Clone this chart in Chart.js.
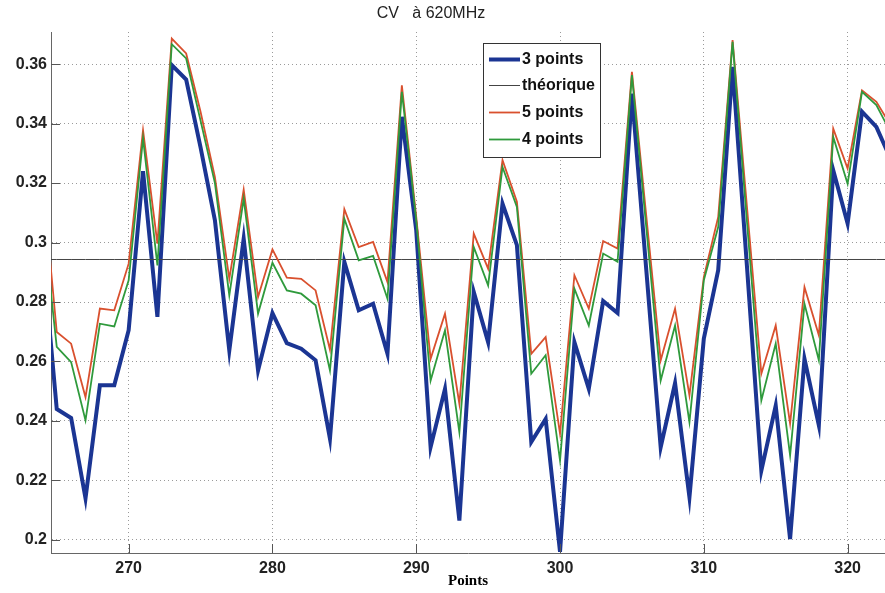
<!DOCTYPE html>
<html>
<head>
<meta charset="utf-8">
<script src="https://cdn.jsdelivr.net/npm/chart.js@4.4.1/dist/chart.umd.min.js"></script>
<style>
html,body{margin:0;padding:0;background:#fff;}
#wrap{width:885px;height:593px;position:relative;}
</style>
</head>
<body>
<div id="wrap"><canvas id="c" width="885" height="593"></canvas></div>
<script>
const titleText = "CV   \u00e0 620MHz";
const xLabel = "Points";
const xTicks = [270, 280, 290, 300, 310, 320];
const yTicks = [0.2, 0.22, 0.24, 0.26, 0.28, 0.3, 0.32, 0.34, 0.36];
const points = [264,265,266,267,268,269,270,271,272,273,274,275,276,277,278,279,280,281,282,283,284,285,286,287,288,289,290,291,292,293,294,295,296,297,298,299,300,301,302,303,304,305,306,307,308,309,310,311,312,313,314,315,316,317,318,319,320,321,322,323];
const labels = ["3 points", "th\u00e9orique", "5 points", "4 points"];
const pts3 = [0.298,0.244,0.241,0.214,0.252,0.252,0.2705,0.324,0.275,0.3597,0.3548,0.332,0.3075,0.2637,0.3013,0.257,0.2763,0.2662,0.2643,0.2604,0.234,0.2935,0.2772,0.2794,0.2626,0.3423,0.3041,0.2312,0.2508,0.2065,0.2834,0.2665,0.3131,0.2991,0.2329,0.2407,0.196,0.2665,0.2508,0.2803,0.2763,0.3501,0.2907,0.2312,0.2527,0.2144,0.2677,0.2907,0.3591,0.292,0.2233,0.2452,0.2003,0.2609,0.2385,0.3243,0.3064,0.344,0.3389,0.328];
const theorique = 0.2943;
const pts5 = [0.322,0.2699,0.266,0.248,0.2778,0.2772,0.2929,0.3378,0.2996,0.3686,0.3636,0.344,0.322,0.2878,0.3178,0.2817,0.2977,0.2882,0.2878,0.2839,0.264,0.3112,0.2985,0.3002,0.2867,0.3529,0.3086,0.2609,0.2761,0.2458,0.303,0.2912,0.3277,0.3137,0.2626,0.2682,0.2357,0.289,0.2778,0.3005,0.298,0.3574,0.3089,0.2604,0.2778,0.2486,0.2884,0.3086,0.3681,0.312,0.2559,0.2721,0.2391,0.285,0.2688,0.3383,0.3249,0.3512,0.3473,0.3394];
const pts4 = [0.3097,0.2649,0.2598,0.2402,0.2727,0.2718,0.2873,0.335,0.2923,0.3667,0.3619,0.341,0.320,0.2822,0.3148,0.2761,0.2932,0.2839,0.2828,0.2789,0.257,0.308,0.294,0.2955,0.2811,0.3507,0.3075,0.2536,0.2705,0.2362,0.2985,0.2856,0.3254,0.312,0.2559,0.2621,0.2267,0.2845,0.2721,0.2963,0.2935,0.3563,0.305,0.2536,0.2721,0.2396,0.2873,0.3052,0.3675,0.307,0.2469,0.266,0.2284,0.2794,0.2604,0.3355,0.3198,0.3507,0.3462,0.337];

const colors = ["#1b3593", "#444444", "#d9502e", "#2f9a3c"];
const widths = [4, 1, 1.8, 1.8];

const mk = arr => points.map((p, i) => ({x: p, y: arr[i]}));
const theoData = points.map(p => ({x: p, y: theorique}));

const legendPlugin = {
  id: 'boxLegend',
  afterDraw(chart) {
    const ctx = chart.ctx;
    const x0 = 483, y0 = 43, w = 117, h = 114;
    ctx.save();
    ctx.fillStyle = '#fff';
    ctx.fillRect(x0, y0, w, h);
    ctx.strokeStyle = '#333';
    ctx.lineWidth = 1;
    ctx.strokeRect(x0 + 0.5, y0 + 0.5, w, h);
    const rows = [59, 85, 112, 139];
    ctx.font = 'bold 16px "Liberation Sans", Arial, sans-serif';
    ctx.textBaseline = 'middle';
    ctx.textAlign = 'left';
    labels.forEach((lb, i) => {
      ctx.strokeStyle = colors[i];
      ctx.lineWidth = widths[i];
      ctx.beginPath();
      ctx.moveTo(489, rows[i] + 0.5);
      ctx.lineTo(520, rows[i] + 0.5);
      ctx.stroke();
      ctx.fillStyle = '#111';
      ctx.fillText(lb, 522, rows[i] + 1);
    });
    ctx.restore();
  }
};

const titleAndTicksPlugin = {
  id: 'titleTicks',
  afterDraw(chart) {
    const ctx = chart.ctx;
    const a = chart.chartArea;
    const xs = chart.scales.x, ys = chart.scales.y;
    ctx.save();
    ctx.strokeStyle = '#555';
    ctx.lineWidth = 1;
    ctx.beginPath();
    xTicks.forEach(v => {
      const px = Math.round(xs.getPixelForValue(v)) + 0.5;
      ctx.moveTo(px, a.bottom);
      ctx.lineTo(px, a.bottom - 9);
    });
    yTicks.forEach(v => {
      const py = Math.round(ys.getPixelForValue(v)) + 0.5;
      ctx.moveTo(a.left, py);
      ctx.lineTo(a.left + 9, py);
    });
    ctx.stroke();
    ctx.fillStyle = '#222';
    ctx.font = '16px "Liberation Sans", Arial, sans-serif';
    ctx.textAlign = 'center';
    ctx.textBaseline = 'middle';
    ctx.fillText(titleText, 431, 14);
    ctx.restore();
  }
};

new Chart(document.getElementById('c'), {
  type: 'line',
  data: {
    datasets: [
      {label: labels[0], data: mk(pts3), borderColor: colors[0], borderWidth: widths[0], order: 4},
      {label: labels[1], data: theoData, borderColor: colors[1], borderWidth: widths[1], order: 3},
      {label: labels[2], data: mk(pts5), borderColor: colors[2], borderWidth: widths[2], order: 2},
      {label: labels[3], data: mk(pts4), borderColor: colors[3], borderWidth: widths[3], order: 1}
    ]
  },
  options: {
    responsive: false,
    animation: false,
    devicePixelRatio: 1,
    layout: {padding: {top: 32, right: 0, left: 0, bottom: 0}},
    elements: {
      point: {radius: 0, hoverRadius: 0},
      line: {tension: 0, fill: false, borderJoinStyle: 'miter', borderCapStyle: 'butt'}
    },
    plugins: {
      legend: {display: false},
      tooltip: {enabled: false},
      title: {display: false}
    },
    scales: {
      x: {
        type: 'linear',
        min: 264.6,
        max: 322.6,
        afterBuildTicks: s => { s.ticks = xTicks.map(v => ({value: v})); },
        afterFit: s => { s.height = 40; },
        grid: {color: '#9a9a9a', lineWidth: 1, drawTicks: false},
        border: {display: true, color: '#666', width: 1, dash: [1, 3]},
        ticks: {
          color: '#222',
          padding: 6,
          maxRotation: 0,
          autoSkip: false,
          font: {family: '"Liberation Sans", Arial, sans-serif', size: 16, weight: 'bold'}
        },
        title: {
          display: true,
          text: xLabel,
          color: '#000',
          padding: {top: 0, bottom: 3},
          font: {family: '"Liberation Serif", "Times New Roman", serif', size: 15, weight: 'bold'}
        }
      },
      y: {
        type: 'linear',
        min: 0.1956,
        max: 0.3708,
        afterBuildTicks: s => { s.ticks = yTicks.map(v => ({value: v})); },
        afterFit: s => { s.width = 51; },
        grid: {color: '#9a9a9a', lineWidth: 1, drawTicks: false},
        border: {display: true, color: '#666', width: 1, dash: [1, 3]},
        ticks: {
          color: '#222',
          padding: 4,
          autoSkip: false,
          font: {family: '"Liberation Sans", Arial, sans-serif', size: 16, weight: 'bold'},
          callback: v => String(+Number(v).toFixed(2))
        }
      }
    }
  },
  plugins: [legendPlugin, titleAndTicksPlugin]
});
</script>
</body>
</html>
